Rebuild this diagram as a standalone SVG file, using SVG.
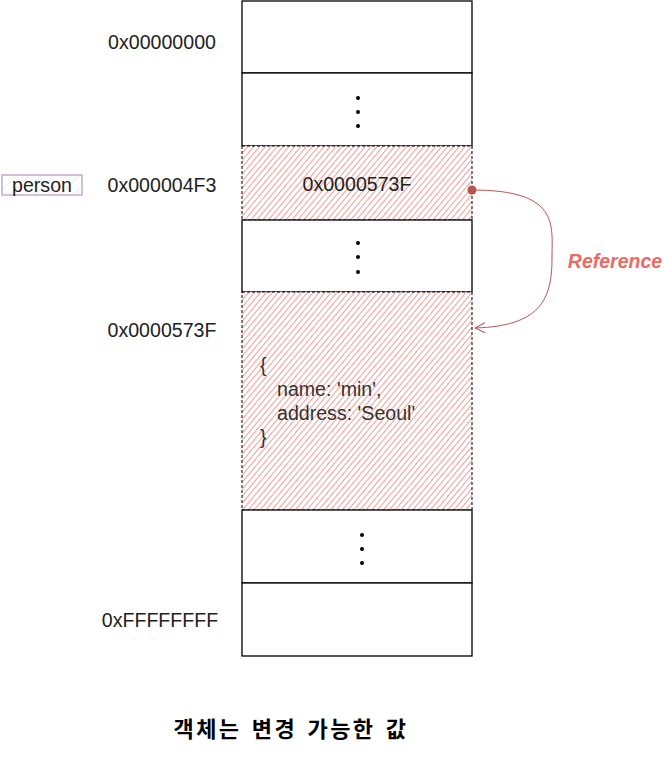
<svg xmlns="http://www.w3.org/2000/svg" width="664" height="782" viewBox="0 0 664 782">
<defs>
<pattern id="hatch" patternUnits="userSpaceOnUse" width="4.5" height="4.5" patternTransform="rotate(40)">
<rect width="4.5" height="4.5" fill="#ffffff"/>
<line x1="0" y1="0" x2="0" y2="4.5" stroke="#f19c99" stroke-width="2"/>
</pattern>
<pattern id="hatchP" patternUnits="userSpaceOnUse" width="9" height="9" patternTransform="rotate(45)">
<line x1="0" y1="0" x2="0" y2="9" stroke="#e1d5e7" stroke-width="1"/>
</pattern>
<marker id="arr" viewBox="0 0 12 12" refX="11" refY="6" markerWidth="12" markerHeight="12" orient="auto" markerUnits="userSpaceOnUse">
<path d="M1,1 L11,6 L1,11" fill="none" stroke="#b85450" stroke-width="1"/>
</marker>
</defs>
<style>
.cell{fill:#ffffff;stroke:#000000;stroke-width:1.3}
.hcell{fill:url(#hatch);stroke:#000000;stroke-width:1;stroke-dasharray:3 2}
.addr{font-family:"Liberation Sans",Arial,sans-serif;font-size:19.6px;fill:#222222;text-anchor:middle}
.code{font-family:"Liberation Sans",Arial,sans-serif;font-size:19.6px;fill:#333333}
.dot{fill:#000000}
</style>
<g id="row1"><rect class="cell" x="242" y="1" width="230" height="72"/></g>
<g id="row2"><rect class="cell" x="242" y="73" width="230" height="73"/>
<circle class="dot" cx="358" cy="98" r="2"/><circle class="dot" cx="358" cy="112" r="2"/><circle class="dot" cx="358" cy="126" r="2"/></g>
<g id="row3"><rect class="hcell" x="242" y="146" width="230" height="74"/>
<text class="addr" x="357" y="191">0x0000573F</text></g>
<g id="row4"><rect class="cell" x="242" y="220" width="230" height="72"/>
<circle class="dot" cx="358" cy="243" r="2"/><circle class="dot" cx="358" cy="257" r="2"/><circle class="dot" cx="358" cy="272" r="2"/></g>
<g id="row5"><rect class="hcell" x="242" y="292" width="230" height="218"/>
<text class="code" x="260" y="372">{</text>
<text class="code" x="277" y="396">name: 'min',</text>
<text class="code" x="277" y="420">address: 'Seoul'</text>
<text class="code" x="260" y="444">}</text></g>
<g id="row6"><rect class="cell" x="242" y="510" width="230" height="73"/>
<circle class="dot" cx="362" cy="535" r="2"/><circle class="dot" cx="362" cy="549" r="2"/><circle class="dot" cx="362" cy="563" r="2"/></g>
<g id="row7"><rect class="cell" x="242" y="583" width="230" height="73"/></g>
<g id="labels">
<text class="addr" x="162" y="49">0x00000000</text>
<text class="addr" x="162" y="192">0x000004F3</text>
<text class="addr" x="162" y="337">0x0000573F</text>
<text class="addr" x="160" y="627">0xFFFFFFFF</text>
</g>
<g id="person"><rect x="2" y="175" width="80" height="20" fill="url(#hatchP)" stroke="#c3abd0" stroke-width="1.5"/>
<text class="addr" x="42" y="192">person</text></g>
<g id="connectors">
<path d="M472,190 C560,190 552,225 552,258 C552,300 540,326 475,328" fill="none" stroke="#b85450" stroke-width="1" marker-end="url(#arr)"/>
<circle cx="472" cy="190" r="4.5" fill="#b85450"/>
</g>
<text x="291" y="268" dx="324" font-family="'Liberation Sans',Arial,sans-serif" font-size="19.5" font-weight="bold" font-style="italic" fill="#ea6b66" text-anchor="middle">Reference</text>
<text x="291" y="737" font-family="'Noto Sans CJK KR',sans-serif" font-size="22" font-weight="bold" letter-spacing="2.4" word-spacing="3" fill="#000000" text-anchor="middle">객체는 변경 가능한 값</text>
</svg>
